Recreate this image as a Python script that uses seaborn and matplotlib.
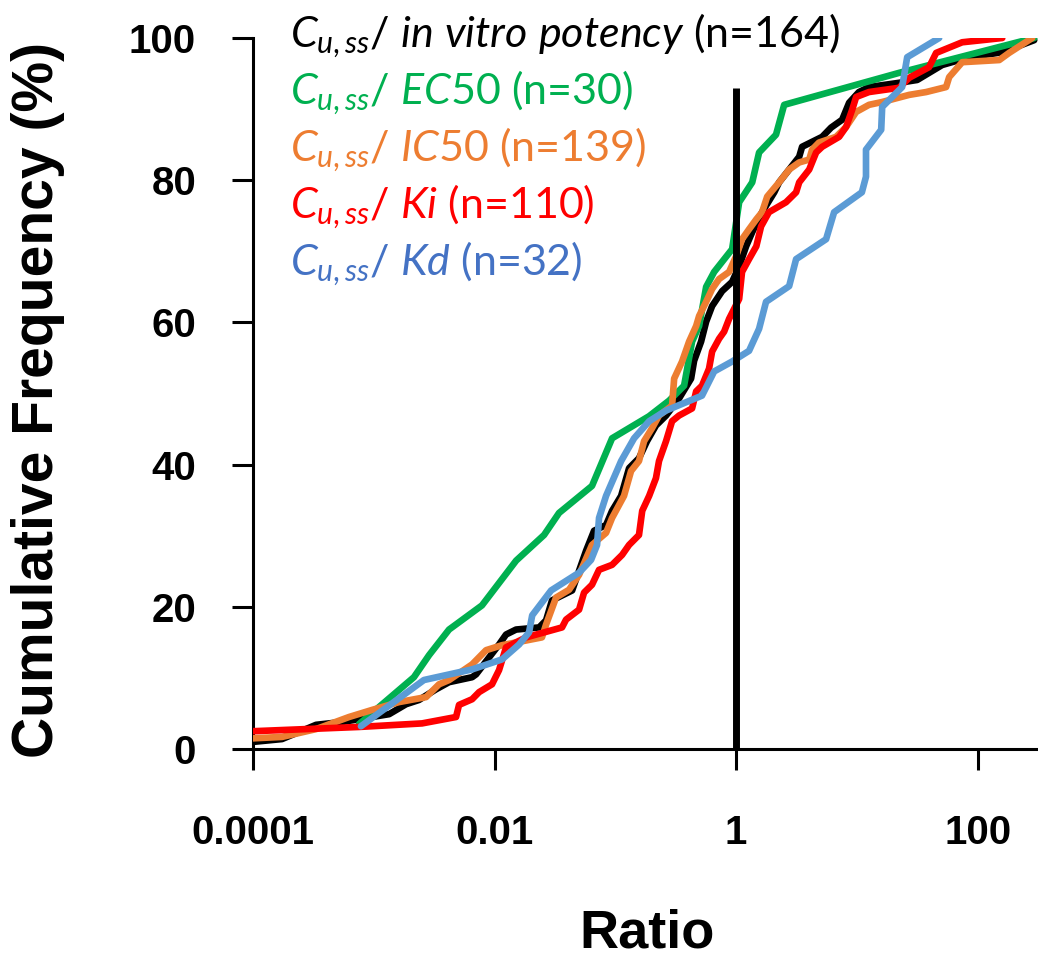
import numpy as np
import pandas as pd
import matplotlib
matplotlib.use("Agg")
import matplotlib.pyplot as plt
import seaborn as sns
from matplotlib.ticker import FixedLocator, FixedFormatter, NullFormatter

# ---------------- data ----------------
all_x = [1.0e-4, 1.74e-4, 3.33e-4, 5.46e-4, 1.34e-3, 1.85e-3, 2.37e-3, 3.28e-3, 4.2e-3, 6.52e-3,
         7.03e-3, 0.0109, 0.01245, 0.01507, 0.0234, 0.0267, 0.0299, 0.0439, 0.0573, 0.0667,
         0.0838, 0.094, 0.1117, 0.130, 0.157, 0.183, 0.217, 0.263, 0.337, 0.424,
         0.449, 0.513, 0.565, 0.633, 0.766, 0.927, 1.06, 1.21, 1.36, 1.64,
         2.07, 2.27, 2.75, 3.33, 3.52, 5.16, 6.12, 7.55, 8.63, 10.4,
         12.6, 22.4, 31.6, 50.8, 85.0, 160.0, 294.0]
all_y = [1.0, 1.4, 3.4, 3.8, 4.9, 6.3, 6.9, 8.4, 9.4, 10.1,
         10.5, 14.7, 16.1, 16.8, 17.1, 18.1, 20.9, 22.3, 27.9, 30.7,
         31.5, 33.5, 35.6, 39.5, 40.9, 43.3, 45.5, 46.9, 49.3, 52.1,
         54.6, 57.3, 60.1, 62.3, 64.4, 65.7, 67.9, 70.7, 72.7, 75.5,
         78.3, 79.7, 81.5, 83.3, 84.7, 86.1, 87.4, 88.5, 90.9, 92.4,
         93.1, 93.7, 94.1, 96.2, 97.3, 98.0, 99.7]

ec50_x = [7.55e-4, 2.15e-3, 2.87e-3, 4.2e-3, 7.87e-3, 0.0151, 0.0257, 0.0342, 0.0641, 0.094,
          0.19, 0.279, 0.371, 0.432, 0.494, 0.565, 0.658, 0.927, 1.06, 1.36,
          1.55, 2.14, 2.50, 22.4, 294.0]
ec50_y = [3.5, 10.1, 13.2, 16.8, 20.2, 26.5, 30.1, 33.2, 37.0, 43.7,
          46.8, 49.0, 51.1, 57.3, 59.5, 65.0, 67.1, 70.3, 76.9, 79.7,
          83.9, 86.4, 90.6, 95.1, 100.0]

ic50_x = [1.0e-4, 1.74e-4, 3.33e-4, 6.24e-4, 9.7e-4, 1.62e-3, 2.71e-3, 3.47e-3, 4.2e-3, 6.52e-3,
          8.51e-3, 0.01153, 0.0247, 0.0267, 0.0323, 0.0414, 0.0501, 0.0641, 0.0838, 0.094,
          0.118, 0.135, 0.157, 0.173, 0.201, 0.230, 0.295, 0.307, 0.357, 0.408,
          0.467, 0.494, 0.565, 0.633, 0.723, 0.875, 1.0, 1.12, 1.28, 1.47,
          1.64, 1.81, 2.27, 2.75, 3.33, 4.03, 4.26, 4.86, 6.73, 8.15,
          9.86, 12.6, 16.2, 27.1, 37.5, 54.8, 58.1, 74.5, 151.0, 182.0, 283.0]
ic50_y = [1.5, 1.7, 2.8, 4.5, 5.5, 6.6, 7.3, 9.1, 9.7, 11.9,
          13.9, 14.6, 15.7, 17.5, 21.3, 22.4, 24.5, 28.7, 30.4, 32.5,
          35.6, 39.1, 40.5, 43.3, 45.1, 46.9, 48.3, 52.1, 54.5, 57.3,
          59.5, 60.9, 62.9, 64.7, 66.1, 67.1, 69.3, 71.7, 73.1, 74.5,
          75.5, 77.7, 79.7, 81.5, 82.5, 82.9, 84.3, 85.3, 86.1, 87.5,
          89.6, 90.6, 91.0, 92.0, 92.4, 93.1, 94.5, 96.6, 96.9, 97.9, 100.0]

ki_x = [1.0e-4, 7.55e-4, 2.51e-3, 4.8e-3, 5.08e-3, 6.52e-3, 7.45e-3, 9.53e-3, 0.0109, 0.01245,
        0.01824, 0.0362, 0.0391, 0.0501, 0.0551, 0.0641, 0.0733, 0.094, 0.1138, 0.130,
        0.157, 0.167, 0.1906, 0.217, 0.230, 0.263, 0.295, 0.337, 0.432, 0.467,
        0.522, 0.597, 0.633, 0.723, 0.796, 0.875, 1.06, 1.12, 1.28, 1.47,
        1.61, 1.87, 2.59, 3.14, 3.33, 4.03, 4.60, 5.16, 7.13, 8.15,
        9.14, 9.86, 12.6, 22.4, 27.1, 39.6, 45.3, 74.5, 160.0]
ki_y = [2.5, 3.1, 3.6, 4.5, 6.2, 7.0, 8.0, 9.1, 11.1, 14.3,
        15.7, 17.1, 18.2, 19.6, 22.0, 23.1, 25.2, 25.9, 27.3, 28.7,
        30.1, 33.5, 35.6, 38.1, 40.5, 43.3, 46.1, 46.9, 47.9, 50.3,
        51.1, 53.5, 55.9, 57.7, 58.7, 60.5, 63.3, 67.1, 68.9, 70.7,
        73.5, 75.5, 76.9, 78.3, 79.7, 81.5, 83.9, 84.7, 86.1, 87.5,
        89.9, 91.7, 92.4, 93.0, 94.4, 95.9, 97.9, 99.4, 100.0]

kd_x = [7.83e-4, 2.6e-3, 6.52e-3, 0.01153, 0.01596, 0.0193, 0.0205, 0.0294, 0.0501, 0.063,
        0.0706, 0.0733, 0.0838, 0.1117, 0.143, 0.1906, 0.263, 0.522, 0.658, 0.927,
        1.28, 1.55, 1.77, 2.75, 3.14, 5.56, 6.48, 11.0, 11.9, 11.9,
        15.9, 16.2, 23.7, 26.1, 48.0]
kd_y = [3.2, 9.7, 11.2, 12.6, 14.7, 16.4, 18.8, 22.3, 24.8, 26.6,
        28.7, 32.5, 35.6, 40.5, 43.7, 46.1, 47.6, 49.7, 53.1, 54.5,
        56.0, 59.1, 62.9, 65.1, 68.9, 71.7, 75.5, 78.3, 80.5, 84.3,
        87.1, 90.3, 93.1, 97.3, 100.0]

series_names = ["all", "EC50", "IC50", "Ki", "Kd"]
series_colors = ["#000000", "#00B050", "#ED7D31", "#FF0000", "#5B9BD5"]
label_colors = ["#000000", "#00B050", "#ED7D31", "#FF0000", "#4472C4"]
legend_labels = [
    r"$\mathit{C_{u,ss}/\ in\ vitro\ potency}$ (n=164)",
    r"$\mathit{C_{u,ss}/\ EC50}$ (n=30)",
    r"$\mathit{C_{u,ss}/\ IC50}$ (n=139)",
    r"$\mathit{C_{u,ss}/\ Ki}$ (n=110)",
    r"$\mathit{C_{u,ss}/\ Kd}$ (n=32)",
]
xtick_values = [1e-4, 1e-2, 1, 1e2]
xtick_labels = ["0.0001", "0.01", "1", "100"]
ytick_values = [0, 20, 40, 60, 80, 100]
ref_line_x = 1
ref_line_top = 93

# ---------------- style ----------------
sns.set_style("white")
plt.rcParams["font.family"] = ["Liberation Sans", "DejaVu Sans"]
plt.rcParams["text.color"] = "black"
plt.rcParams["axes.labelcolor"] = "black"
plt.rcParams["xtick.color"] = "black"
plt.rcParams["ytick.color"] = "black"
plt.rcParams["mathtext.fontset"] = "custom"
plt.rcParams["mathtext.it"] = "Lato:italic"
plt.rcParams["mathtext.rm"] = "Lato"
plt.rcParams["mathtext.bf"] = "Lato:bold"

W, H = 1038, 960
fig = plt.figure(figsize=(W / 100, H / 100), dpi=100)
ax = fig.add_axes([253 / W, 1 - 749 / H, (W - 253) / W, 711 / H])

frames = []
for name, xs, ys in zip(series_names,
                        [all_x, ec50_x, ic50_x, ki_x, kd_x],
                        [all_y, ec50_y, ic50_y, ki_y, kd_y]):
    frames.append(pd.DataFrame({"ratio": xs, "cum": ys, "series": name}))
df = pd.concat(frames, ignore_index=True)

for i, (name, col) in enumerate(zip(series_names, series_colors)):
    sub = df[df["series"] == name]
    sns.lineplot(data=sub, x="ratio", y="cum", color=col, sort=False, estimator=None,
                 linewidth=4.8, ax=ax, zorder=2 + i, legend=False)

ax.plot([ref_line_x, ref_line_x], [0, ref_line_top], color="black", linewidth=5, zorder=10,
        solid_capstyle="butt")

ax.set_xscale("log")
ax.set_xlim(1e-4, 316)
ax.set_ylim(0, 100)
ax.xaxis.set_major_locator(FixedLocator(xtick_values))
ax.xaxis.set_major_formatter(FixedFormatter(xtick_labels))
ax.xaxis.set_minor_locator(FixedLocator([m * 10.0 ** e for e in (-3, -1, 1) for m in range(1, 10)]))
ax.xaxis.set_minor_formatter(NullFormatter())
ax.yaxis.set_major_locator(FixedLocator(ytick_values))

for s in ["top", "right"]:
    ax.spines[s].set_visible(False)
for s in ["left", "bottom"]:
    ax.spines[s].set_linewidth(2.2)
    ax.spines[s].set_color("black")

ax.tick_params(axis="x", which="major", direction="out", length=15, width=2.2, pad=32,
               labelsize=29, colors="black")
ax.tick_params(axis="x", which="minor", direction="out", length=10, width=2.2, colors="black")
ax.tick_params(axis="y", which="major", direction="out", length=15, width=2.2, pad=26,
               labelsize=29, colors="black")
ax.tick_params(left=True, bottom=True)
for lab in ax.get_xticklabels() + ax.get_yticklabels():
    lab.set_fontweight("bold")

ax.set_xlabel("")
ax.set_ylabel("")
fig.text(38 / W, 1 - 400 / H, "Cumulative Frequency (%)", rotation=90, ha="center", va="center",
         fontsize=41, fontweight="bold", color="black")
fig.text(647 / W, 2 / H, "Ratio", ha="center", va="bottom", fontsize=39,
         fontweight="bold", color="black")

baselines = [47, 104, 161, 218, 275]
for lab, col, b in zip(legend_labels, label_colors, baselines):
    fig.text(290 / W, 1 - b / H, lab, color=col, fontsize=31, family="Lato", ha="left", va="baseline")

fig.savefig("out.png", dpi=100)
